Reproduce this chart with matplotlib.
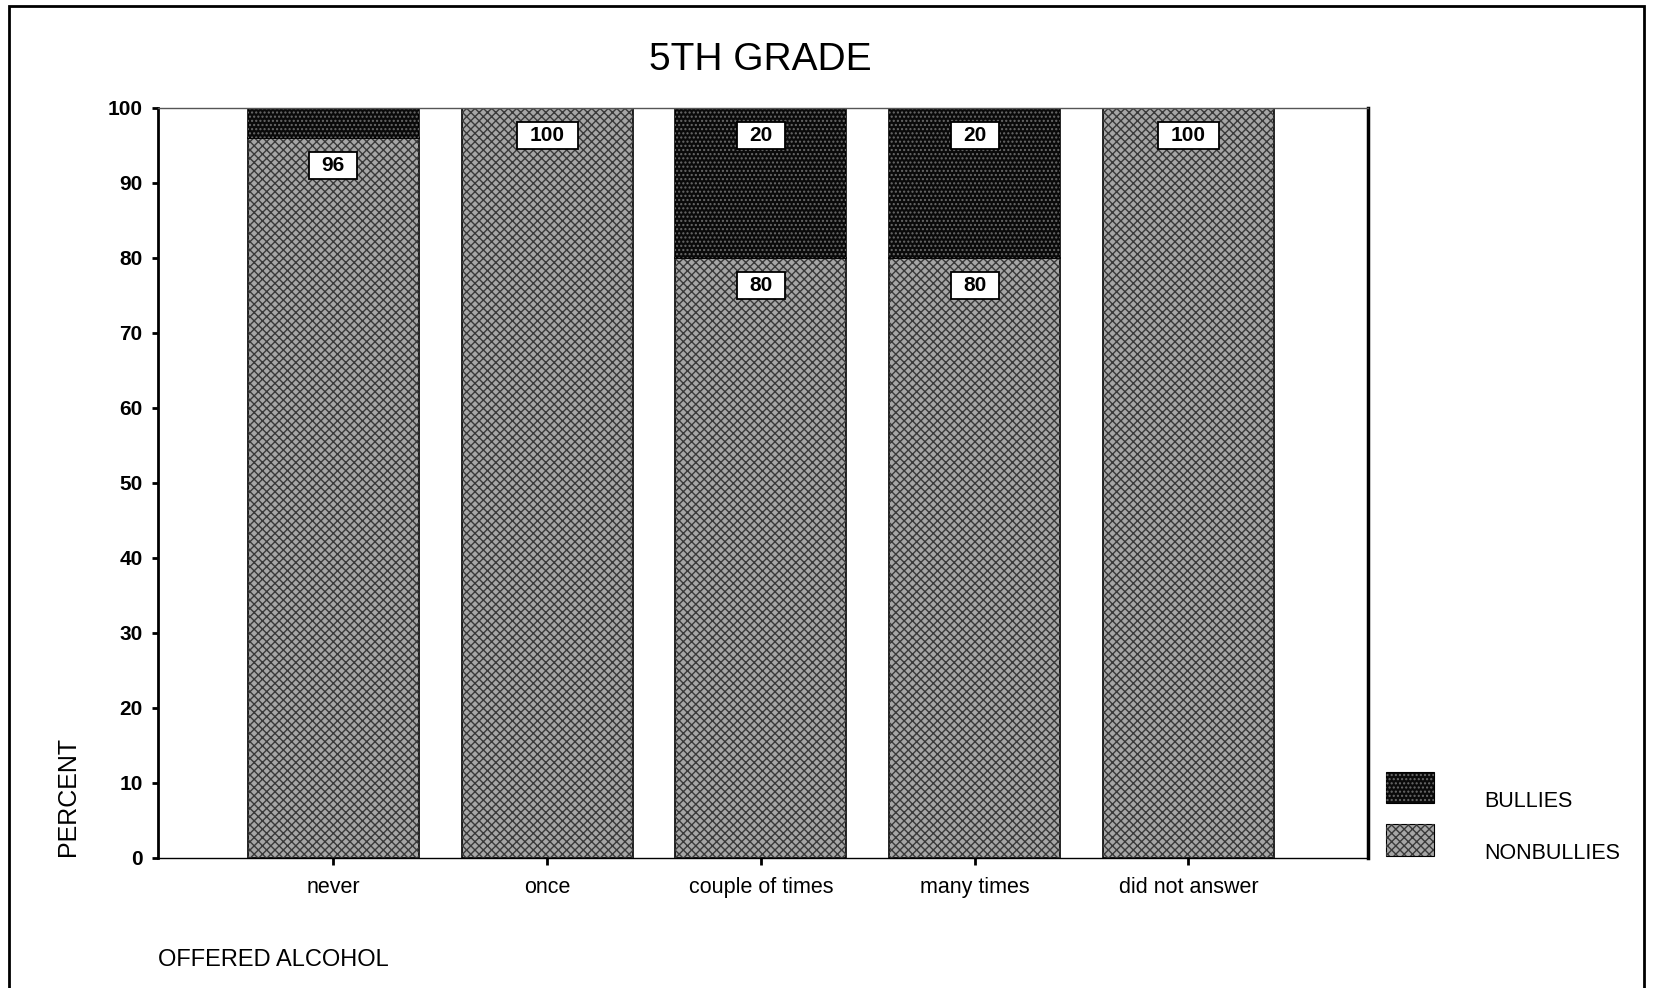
import numpy as np
import matplotlib
matplotlib.use("Agg")
import matplotlib.pyplot as plt
from matplotlib.patches import Rectangle

plt.rcParams['font.family'] = ['Liberation Sans', 'DejaVu Sans']

# data
categories = ["never", "once", "couple of times", "many times", "did not answer"]
nonbullies = [96, 100, 80, 80, 100]
bullies = [4, 0, 20, 20, 0]
series_names = ["BULLIES", "NONBULLIES"]

NON_FACE = "#a6a6a6"
NON_HATCH = "#3a3a3a"
BUL_FACE = "#0a0a0a"
BUL_HATCH = "#6a6a6a"

fig = plt.figure(figsize=(16.53, 9.88), dpi=100)
ax = fig.add_axes([0.0956, 0.132, 0.732, 0.759])

x = np.arange(len(categories))
w = 0.8

# nonbullies at the bottom, bullies stacked on top
ax.bar(x, nonbullies, w, color=NON_FACE, edgecolor="black", linewidth=1.2)
ax.bar(x, nonbullies, w, color="none", edgecolor=NON_HATCH, hatch="xxxx", linewidth=0)
ax.bar(x, bullies, w, bottom=nonbullies, color=BUL_FACE, edgecolor="black", linewidth=1.2)
ax.bar(x, bullies, w, bottom=nonbullies, color="none", edgecolor=BUL_HATCH, hatch="....", linewidth=0)


def value_box(xc, yc, txt):
    """white boxed label, a bit wider than the number"""
    bw = (len(txt) * 13 + 22) / 214.0
    bh = 3.6
    ax.add_patch(Rectangle((xc - bw / 2, yc - bh / 2), bw, bh, facecolor="white",
                           edgecolor="black", linewidth=1.3, zorder=4))
    ax.text(xc, yc, txt, ha="center", va="center", fontsize=15, fontweight="bold", zorder=5)


# value boxes just under the top of each segment
for i in range(len(categories)):
    if nonbullies[i] > 0:
        value_box(x[i], nonbullies[i] - 3.7, str(nonbullies[i]))
    if bullies[i] >= 10:
        value_box(x[i], nonbullies[i] + bullies[i] - 3.7, str(bullies[i]))

ax.set_xlim(-0.82, len(categories) - 1 + 0.84)
ax.set_ylim(0, 100)
ax.set_yticks(range(0, 101, 10))
ax.set_xticks(x)
ax.set_xticklabels(categories, fontsize=15.5)
ax.tick_params(axis="y", labelsize=15, length=4, width=2, pad=7)
ax.tick_params(axis="x", length=5, width=2, pad=9)
for lab in ax.get_yticklabels():
    lab.set_fontweight("bold")

ax.spines["left"].set_linewidth(2)
ax.spines["bottom"].set_linewidth(1)
ax.spines["top"].set_linewidth(1)
ax.spines["top"].set_color("#555555")
ax.spines["right"].set_linewidth(2.5)

fig.text(0.46, 0.939, "5TH GRADE", ha="center", va="center", fontsize=28)
fig.text(0.041, 0.194, "PERCENT", ha="center", va="center", rotation=90, fontsize=18)
fig.text(0.0956, 0.028, "OFFERED ALCOHOL", ha="left", va="center", fontsize=17)

# legend drawn in figure space
leg_y = [0.203, 0.150]
leg_face = [BUL_FACE, NON_FACE]
leg_hatch = [BUL_HATCH, NON_HATCH]
leg_pat = ["....", "xxxx"]
for yy, name, fc, hc, hp in zip(leg_y, series_names, leg_face, leg_hatch, leg_pat):
    fig.patches.append(Rectangle((0.8385, yy - 0.016), 0.029, 0.032, transform=fig.transFigure,
                                 facecolor=fc, edgecolor="black", linewidth=0.8))
    fig.patches.append(Rectangle((0.8385, yy - 0.016), 0.029, 0.032, transform=fig.transFigure,
                                 facecolor="none", edgecolor=hc, hatch=hp, linewidth=0))
    fig.text(0.898, yy - 0.014, name, ha="left", va="center", fontsize=15.5)

# outer frame
fig.patches.append(Rectangle((0.0055, -0.01), 0.989, 1.004, transform=fig.transFigure,
                             facecolor="none", edgecolor="black", linewidth=2))

fig.savefig("out.png", dpi=100, facecolor="white")
